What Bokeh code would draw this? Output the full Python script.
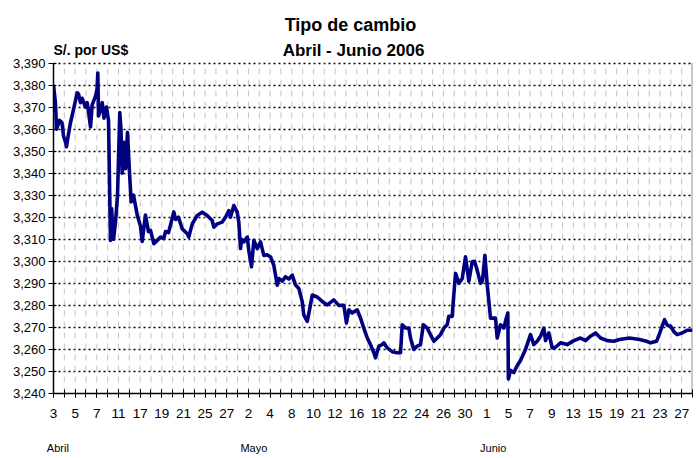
from bokeh.plotting import figure
from bokeh.models import Range1d, FixedTicker, LinearAxis, Label, ColumnDataSource
from bokeh.embed import file_html
from bokeh.resources import INLINE

# ---- data (x = trading-day position, 0 = 3 Apr 2006; value = S/. per US$) ----
abril = [(0.0, 3.380), (0.18, 3.372), (0.28, 3.360), (0.42, 3.362), (0.55, 3.364), (0.78, 3.363),
         (0.92, 3.357), (1.11, 3.354), (1.2, 3.352), (1.29, 3.355), (1.57, 3.363), (1.85, 3.369),
         (2.19, 3.3765), (2.31, 3.376), (2.49, 3.372), (2.65, 3.374), (2.95, 3.370), (3.11, 3.372),
         (3.23, 3.368), (3.42, 3.361), (3.57, 3.371), (3.88, 3.375), (4.02, 3.378), (4.09, 3.3855),
         (4.16, 3.366), (4.34, 3.369), (4.5, 3.372), (4.66, 3.365), (4.89, 3.370), (5.08, 3.364),
         (5.26, 3.3095), (5.36, 3.324), (5.54, 3.310), (5.73, 3.318), (5.91, 3.330), (6.12, 3.3675),
         (6.23, 3.360), (6.34, 3.340), (6.49, 3.354), (6.65, 3.342), (6.83, 3.3585), (7.02, 3.340),
         (7.17, 3.327), (7.39, 3.330), (7.57, 3.3253), (7.73, 3.321), (8.03, 3.316), (8.19, 3.309),
         (8.49, 3.321), (8.77, 3.3135), (8.96, 3.314), (9.26, 3.308), (9.58, 3.3095), (9.88, 3.311),
         (10.18, 3.3103), (10.34, 3.3135), (10.62, 3.313), (11.11, 3.3224), (11.27, 3.319),
         (11.54, 3.320), (11.88, 3.3148), (12.35, 3.3125), (12.49, 3.311), (12.81, 3.317),
         (13.27, 3.3208), (13.73, 3.3223), (14.19, 3.3208), (14.65, 3.3185), (14.8, 3.3155),
         (15.12, 3.317), (15.58, 3.3178), (15.88, 3.320), (16.19, 3.323), (16.34, 3.320),
         (16.65, 3.3253), (16.96, 3.3223), (17.11, 3.3178), (17.27, 3.3058), (17.36, 3.310),
         (17.57, 3.3088), (17.89, 3.311)]
mayo = [(18.03, 3.305), (18.28, 3.2975), (18.5, 3.3095), (18.81, 3.3058), (19.11, 3.3088),
        (19.42, 3.3027), (19.73, 3.303), (20.04, 3.302), (20.34, 3.2982), (20.5, 3.2937),
        (20.66, 3.2892), (20.8, 3.2922), (21.12, 3.291), (21.42, 3.293), (21.73, 3.292),
        (22.04, 3.2937), (22.35, 3.2892), (22.65, 3.2877), (22.96, 3.2818), (23.11, 3.2757),
        (23.43, 3.2727), (23.67, 3.2787), (23.89, 3.2847), (24.35, 3.2838), (24.81, 3.2818),
        (25.27, 3.2802), (25.88, 3.2825), (26.34, 3.280), (26.81, 3.280), (27.05, 3.272),
        (27.27, 3.278), (27.58, 3.2765), (28.04, 3.278), (28.35, 3.2742), (28.65, 3.2697),
        (28.97, 3.2652), (29.27, 3.2622), (29.58, 3.2585), (29.73, 3.2562), (30.04, 3.2615),
        (30.35, 3.2622), (30.5, 3.263), (30.81, 3.2607), (31.27, 3.259), (31.74, 3.2585),
        (32.04, 3.2585), (32.2, 3.2712), (32.5, 3.2697), (32.81, 3.2697), (32.96, 3.2652),
        (33.27, 3.260), (33.58, 3.2615), (33.89, 3.2622), (34.14, 3.2712), (34.51, 3.2697),
        (34.81, 3.2667), (35.12, 3.2637), (35.43, 3.2652), (35.73, 3.2667), (36.04, 3.2697),
        (36.35, 3.2712), (36.5, 3.275), (36.81, 3.275), (36.96, 3.2847), (37.12, 3.2945),
        (37.43, 3.290), (37.74, 3.2922), (38.04, 3.302), (38.35, 3.291), (38.66, 3.2998),
        (38.87, 3.300), (39.12, 3.296), (39.43, 3.290), (39.61, 3.291), (39.83, 3.3027)]
junio = [(40.05, 3.2892), (40.35, 3.2742), (40.81, 3.2742), (40.97, 3.2652), (41.27, 3.2712),
         (41.58, 3.2697), (41.74, 3.273), (41.95, 3.2765), (42.0, 3.2466), (42.2, 3.2505),
         (42.5, 3.2495), (42.82, 3.2527), (43.12, 3.255), (43.58, 3.260), (44.04, 3.2667),
         (44.35, 3.2622), (44.66, 3.2637), (44.97, 3.266), (45.27, 3.2697), (45.43, 3.264),
         (45.73, 3.2675), (46.05, 3.2607), (46.35, 3.261), (46.81, 3.263), (47.43, 3.2622),
         (48.04, 3.264), (48.66, 3.2652), (49.12, 3.264), (49.58, 3.266), (50.05, 3.2675),
         (50.51, 3.2652), (51.13, 3.264), (51.74, 3.2637), (52.26, 3.2645), (53.19, 3.2652),
         (54.11, 3.2645), (54.76, 3.2637), (55.13, 3.263), (55.68, 3.2637), (55.98, 3.2675),
         (56.2, 3.2705), (56.42, 3.2735), (56.67, 3.271), (56.98, 3.2705), (57.29, 3.268),
         (57.59, 3.2667), (58.05, 3.2675), (58.51, 3.2687), (59.0, 3.2687)]

day_labels = ["3", "5", "7", "11", "17", "19", "21", "25", "27", "2", "4", "8", "10", "12", "16",
              "18", "22", "24", "26", "30", "1", "5", "7", "9", "13", "15", "19", "21", "23", "27"]
month_names = ["Abril", "Mayo", "Junio"]
month_pos = [0.4, 18.5, 40.6]
y_ticks = [3.240, 3.250, 3.260, 3.270, 3.280, 3.290, 3.300, 3.310, 3.320, 3.330,
           3.340, 3.350, 3.360, 3.370, 3.380, 3.390]
y_labels = ["3,240", "3,250", "3,260", "3,270", "3,280", "3,290", "3,300", "3,310", "3,320",
            "3,330", "3,340", "3,350", "3,360", "3,370", "3,380", "3,390"]
n_days = 59

title1 = "Tipo de cambio"
title2 = "Abril - Junio 2006"
unit_label = "S/. por US$"

# ---- layout (pixels) ----
W, H = 694, 456
BL, BR, BB = 53, 2, 60
PLOT_TOP = 63                 # pixel row of the top value (3,390)
FRAME_BOTTOM = H - BB         # pixel row of the bottom value (3,240)
FONT = "Liberation Sans"

y_lo, y_hi = y_ticks[0], y_ticks[-1]
y_top = y_hi + (y_hi - y_lo) * PLOT_TOP / (FRAME_BOTTOM - PLOT_TOP)   # frame extends up to hold titles

pts = abril + mayo + junio
src = ColumnDataSource(dict(x=[a for a, b in pts], y=[b for a, b in pts]))

p = figure(width=W, height=H, output_backend="svg", toolbar_location=None,
           x_range=Range1d(0, n_days), y_range=Range1d(y_lo, y_top),
           min_border_left=BL, min_border_right=BR, min_border_top=0, min_border_bottom=BB)
p.background_fill_color = "white"
p.border_fill_color = "white"
p.outline_line_color = None

# x axis (trading days)
xa = p.xaxis[0]
major = list(range(0, n_days, 2))
xa.ticker = FixedTicker(ticks=major, minor_ticks=list(range(0, n_days + 1)))
xa.major_label_overrides = {t: lbl for t, lbl in zip(major, day_labels)}
xa.major_tick_in = 4
xa.major_tick_out = 4
xa.minor_tick_in = 4
xa.minor_tick_out = 4
xa.major_tick_line_color = "black"
xa.minor_tick_line_color = "black"
xa.axis_line_color = "black"
xa.axis_line_width = 1.5
xa.major_label_standoff = 11
xa.major_label_text_font = FONT
xa.major_label_text_font_size = "13.5px"
xa.major_label_text_color = "black"

# month axis
ma = LinearAxis(ticker=FixedTicker(ticks=month_pos),
                major_label_overrides={t: m for t, m in zip(month_pos, month_names)})
ma.axis_line_color = None
ma.major_tick_line_color = None
ma.minor_tick_line_color = None
ma.major_label_standoff = 15
ma.major_label_text_font = FONT
ma.major_label_text_font_size = "11px"
ma.major_label_text_color = "black"
p.add_layout(ma, "below")

# y axis
ya = p.yaxis[0]
ya.bounds = (y_lo, y_hi)
ya.ticker = FixedTicker(ticks=y_ticks)
ya.major_label_overrides = {t: lbl for t, lbl in zip(y_ticks, y_labels)}
ya.major_tick_in = 3
ya.major_tick_out = 5
ya.minor_tick_line_color = None
ya.major_tick_line_color = "black"
ya.axis_line_color = "black"
ya.axis_line_width = 1.5
ya.major_label_standoff = 3
ya.major_label_text_font = FONT
ya.major_label_text_font_size = "13px"
ya.major_label_text_color = "black"

# grids
p.xgrid.visible = False
p.ygrid.ticker = FixedTicker(ticks=y_ticks)
p.ygrid.grid_line_color = "black"
p.ygrid.grid_line_dash = "2 3"
p.ygrid.grid_line_width = 1.4

days = list(range(1, n_days))
p.segment(x0=days, y0=[y_lo] * len(days), x1=days, y1=[y_hi] * len(days),
          line_color="#c4c4c4", line_width=1, line_dash="6 5")
p.segment(x0=[n_days], y0=[y_lo], x1=[n_days], y1=[y_hi], line_color="#909090", line_width=2)

p.line("x", "y", source=src, line_color="#000080", line_width=3.6, line_join="round")

# titles (screen units relative to frame left / bottom)
def base(row):
    return FRAME_BOTTOM - row

p.add_layout(Label(x=350 - BL, y=base(27), x_units="screen", y_units="screen", text=title1,
                   text_align="center", text_baseline="alphabetic", text_font=FONT,
                   text_font_size="18px", text_font_style="bold", text_color="black"))
p.add_layout(Label(x=353 - BL, y=base(53), x_units="screen", y_units="screen", text=title2,
                   text_align="center", text_baseline="alphabetic", text_font=FONT,
                   text_font_size="17px", text_font_style="bold", text_color="black"))
p.add_layout(Label(x=0, y=base(52), x_units="screen", y_units="screen", text=unit_label,
                   text_align="left", text_baseline="alphabetic", text_font=FONT,
                   text_font_size="14px", text_font_style="bold", text_color="black"))

open("out.html", "w").write(file_html(p, INLINE))
